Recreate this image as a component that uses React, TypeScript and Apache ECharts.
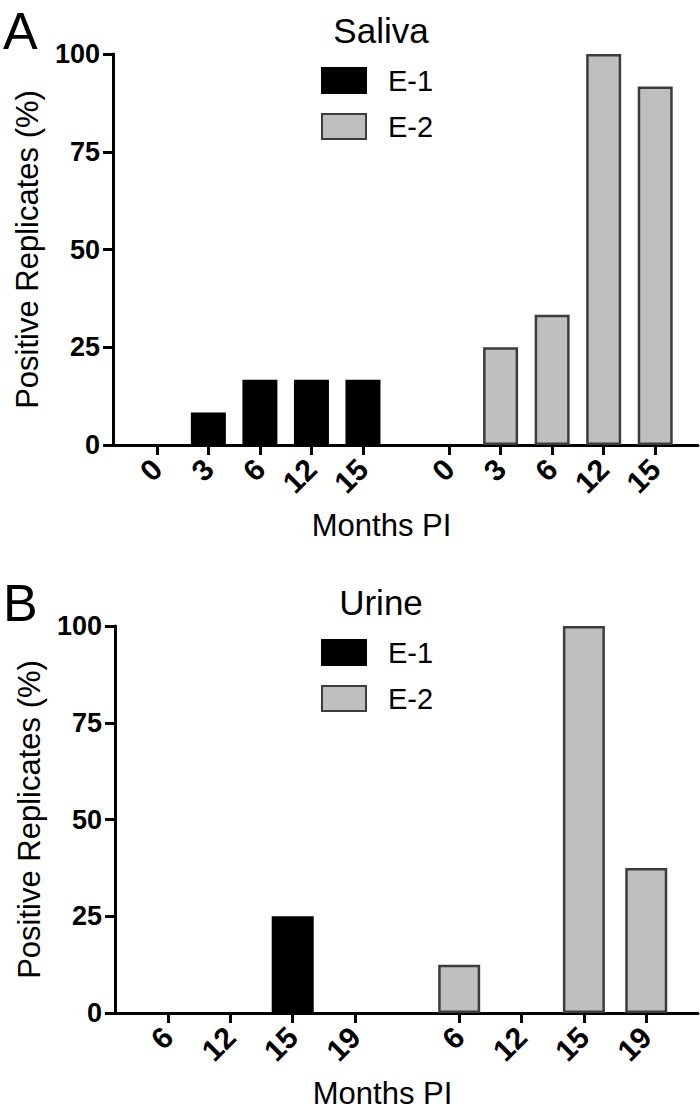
import React, { useEffect, useRef } from 'react';
import * as echarts from 'echarts';

// ---- data ----
const seriesNames = ['E-1', 'E-2'];
const yTicks = [0, 25, 50, 75, 100];

const salivaTitle = 'Saliva';
const salivaMonths = ['0', '3', '6', '12', '15'];
const salivaE1 = [0, 8.33, 16.67, 16.67, 16.67];
const salivaE2 = [0, 25, 33.33, 100, 91.67];

const urineTitle = 'Urine';
const urineMonths = ['6', '12', '15', '19'];
const urineE1 = [0, 0, 25, 0];
const urineE2 = [12.5, 0, 100, 37.5];

const FONT = "'Liberation Sans', Arial, Helvetica, sans-serif";
const GROUP_GAP = 0.67;

function pos(group: number, i: number, n: number) {
  return 1 + i + group * (n + GROUP_GAP);
}

// zero-height bars are not drawn (no outline on the axis)
function barValue(v: number) {
  return v === 0 ? '-' : v;
}

function buildPanel(
  k: number,
  title: string,
  letter: string,
  months: string[],
  e1: number[],
  e2: number[],
  offsetY: number,
  gridLeft: number,
  barW: number
) {
  const n = months.length;
  const positions: number[] = [];
  const labelMap: Record<string, string> = {};
  for (let g = 0; g < 2; g++) {
    months.forEach((m, i) => {
      const p = pos(g, i, n);
      positions.push(p);
      labelMap[p.toFixed(3)] = m;
    });
  }
  const grid = { left: gridLeft, right: 2, top: 54 + offsetY, height: 391 };
  const xAxis = {
    gridIndex: k,
    type: 'value',
    min: 0.15,
    max: 2 * n + 1.5,
    axisLine: { show: true, onZero: false, lineStyle: { color: '#000', width: 3 } },
    axisTick: { show: true, customValues: positions, length: 10, lineStyle: { color: '#000', width: 3 } },
    axisLabel: {
      show: true,
      customValues: positions,
      rotate: 45,
      margin: 19,
      fontSize: 30,
      fontWeight: 'bold',
      color: '#000',
      fontFamily: FONT,
      formatter: (v: number) => labelMap[Number(v).toFixed(3)] ?? '',
    },
    splitLine: { show: false },
    name: 'Months PI',
    nameLocation: 'middle',
    nameGap: 65,
    nameTextStyle: { fontSize: 31, color: '#000', fontFamily: FONT, padding: [0, 48, 0, 0] },
  };
  const yAxis = {
    gridIndex: k,
    type: 'value',
    min: yTicks[0],
    max: yTicks[yTicks.length - 1],
    interval: yTicks[1] - yTicks[0],
    axisLine: { show: true, lineStyle: { color: '#000', width: 3 } },
    axisTick: { show: true, length: 10, lineStyle: { color: '#000', width: 3 } },
    axisLabel: { fontSize: 27, fontWeight: 'bold', color: '#000', margin: 13, fontFamily: FONT },
    splitLine: { show: false },
    name: 'Positive Replicates (%)',
    nameLocation: 'middle',
    nameGap: 70,
    nameTextStyle: { fontSize: 31, color: '#000', fontFamily: FONT },
  };
  const series = [
    {
      type: 'bar',
      name: seriesNames[0],
      xAxisIndex: k,
      yAxisIndex: k,
      barWidth: barW,
      barGap: '-100%',
      data: e1.map((v, i) => [pos(0, i, n), barValue(v)]),
      itemStyle: { color: '#000', borderColor: '#000', borderWidth: 2.5 },
    },
    {
      type: 'bar',
      name: seriesNames[1],
      xAxisIndex: k,
      yAxisIndex: k,
      barWidth: barW,
      barGap: '-100%',
      data: e2.map((v, i) => [pos(1, i, n), barValue(v)]),
      itemStyle: { color: '#bfbfbf', borderColor: '#3c3c3c', borderWidth: 2.5 },
    },
  ];
  const legend = {
    data: seriesNames,
    orient: 'vertical',
    left: 321,
    top: 66 + offsetY,
    padding: 0,
    itemWidth: 44,
    itemHeight: 25,
    itemGap: 17,
    icon: 'rect',
    textStyle: { fontSize: 29, color: '#000', fontFamily: FONT, padding: [0, 0, 0, 17] },
  };
  const titles = [
    {
      text: letter,
      left: 3,
      top: 5 + offsetY,
      padding: 0,
      textStyle: { fontSize: 52, fontWeight: 'normal', color: '#000', fontFamily: FONT },
    },
    {
      text: title,
      left: 381,
      top: 13 + offsetY,
      textAlign: 'center',
      padding: 0,
      textStyle: { fontSize: 35, fontWeight: 'normal', color: '#000', fontFamily: FONT },
    },
  ];
  return { grid, xAxis, yAxis, series, legend, titles };
}

export default function App() {
  const ref = useRef<HTMLDivElement>(null);
  useEffect(() => {
    if (!ref.current) return;
    const chart = echarts.init(ref.current, null, { renderer: 'svg' });
    const a = buildPanel(0, salivaTitle, 'A', salivaMonths, salivaE1, salivaE2, 0, 113, 35);
    const b = buildPanel(1, urineTitle, 'B', urineMonths, urineE1, urineE2, 572, 115, 42);
    chart.setOption({
      animation: false,
      backgroundColor: '#fff',
      textStyle: { fontFamily: FONT },
      title: [...a.titles, ...b.titles],
      legend: [a.legend, b.legend],
      grid: [a.grid, b.grid],
      xAxis: [a.xAxis, b.xAxis],
      yAxis: [a.yAxis, b.yAxis],
      series: [...a.series, ...b.series],
    });
    return () => chart.dispose();
  }, []);
  return (
    <div
      ref={ref}
      style={{ position: 'absolute', left: 0, top: 0, width: 700, height: 1110, background: '#fff' }}
    />
  );
}
